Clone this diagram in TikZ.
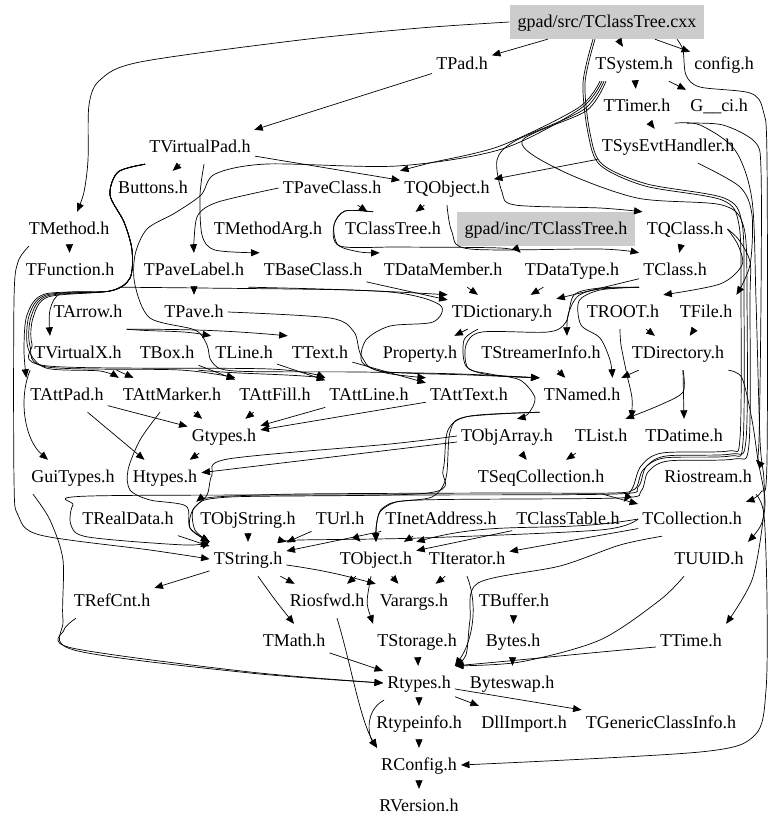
\documentclass[tikz,border=0pt]{standalone}
\usepackage{fontspec}
\setmainfont{Liberation Serif}
\usetikzlibrary{arrows.meta}
\definecolor{boxgray}{RGB}{204,204,204}
\begin{document}
\begin{tikzpicture}[x=1pt,y=-1pt,
  n/.style={inner xsep=4pt, inner ysep=0pt, minimum height=34pt, text height=13.5pt, text depth=3.5pt, font=\fontsize{18}{20}\selectfont},
  g/.style={n, fill=boxgray, inner xsep=8pt},
  e/.style={draw=black, line width=0.7pt, -{Triangle[length=8.5pt,width=7pt]}},
  sm/.style={smooth, tension=0.5}]
\useasboundingbox (0,0) rectangle (779,828);
% ---------- nodes ----------
\node[g] (cxx) at (607,22) {gpad/src/TClassTree.cxx};
\node[n] (TPad) at (462,64) {TPad.h};
\node[n] (TSystem) at (634,64) {TSystem.h};
\node[n] (config) at (724,64) {config.h};
\node[n] (TTimer) at (637,106) {TTimer.h};
\node[n] (Gci) at (719,106) {G\_\_ci.h};
\node[n] (TSysEvt) at (668,146) {TSysEvtHandler.h};
\node[n] (TVirtualPad) at (200,147) {TVirtualPad.h};
\node[n] (Buttons) at (153,188) {Buttons.h};
\node[n] (TPaveClass) at (332,188) {TPaveClass.h};
\node[n] (TQObject) at (447,188) {TQObject.h};
\node[n] (TMethod) at (69,229) {TMethod.h};
\node[n] (TMethodArg) at (268,229) {TMethodArg.h};
\node[n] (TClassTreeH) at (393,229) {TClassTree.h};
\node[g] (inc) at (546,229) {gpad/inc/TClassTree.h};
\node[n] (TQClass) at (685,229) {TQClass.h};
\node[n] (TFunction) at (70,270) {TFunction.h};
\node[n] (TPaveLabel) at (194,270) {TPaveLabel.h};
\node[n] (TBaseClass) at (313,270) {TBaseClass.h};
\node[n] (TDataMember) at (443,270) {TDataMember.h};
\node[n] (TDataType) at (572,270) {TDataType.h};
\node[n] (TClass) at (675,270) {TClass.h};
\node[n] (TArrow) at (88,312) {TArrow.h};
\node[n] (TPave) at (194,312) {TPave.h};
\node[n] (TDictionary) at (502,312) {TDictionary.h};
\node[n] (TROOT) at (623,312) {TROOT.h};
\node[n] (TFile) at (706,312) {TFile.h};
\node[n] (TVirtualX) at (78,353) {TVirtualX.h};
\node[n] (TBox) at (167,353) {TBox.h};
\node[n] (TLine) at (244,353) {TLine.h};
\node[n] (TText) at (320,353) {TText.h};
\node[n] (Property) at (420,353) {Property.h};
\node[n] (TStreamerInfo) at (541,353) {TStreamerInfo.h};
\node[n] (TDirectory) at (678,353) {TDirectory.h};
\node[n] (TAttPad) at (67,395) {TAttPad.h};
\node[n] (TAttMarker) at (172,395) {TAttMarker.h};
\node[n] (TAttFill) at (275,395) {TAttFill.h};
\node[n] (TAttLine) at (369,395) {TAttLine.h};
\node[n] (TAttText) at (469,395) {TAttText.h};
\node[n] (TNamed) at (582,395) {TNamed.h};
\node[n] (Gtypes) at (224,436) {Gtypes.h};
\node[n] (TObjArray) at (507,436) {TObjArray.h};
\node[n] (TList) at (601,436) {TList.h};
\node[n] (TDatime) at (684,436) {TDatime.h};
\node[n] (GuiTypes) at (73,477) {GuiTypes.h};
\node[n] (Htypes) at (165,477) {Htypes.h};
\node[n] (TSeqCollection) at (541,477) {TSeqCollection.h};
\node[n] (Riostream) at (708,477) {Riostream.h};
\node[n] (TRealData) at (128,519) {TRealData.h};
\node[n] (TObjString) at (248,519) {TObjString.h};
\node[n] (TUrl) at (340,519) {TUrl.h};
\node[n] (TInetAddress) at (441,519) {TInetAddress.h};
\node[n] (TClassTable) at (568,519) {TClassTable.h};
\node[n] (TCollection) at (692,519) {TCollection.h};
\node[n] (TString) at (248,559) {TString.h};
\node[n] (TObject) at (376,559) {TObject.h};
\node[n] (TIterator) at (467,559) {TIterator.h};
\node[n] (TUUID) at (709,559) {TUUID.h};
\node[n] (TRefCnt) at (112,601) {TRefCnt.h};
\node[n] (Riosfwd) at (327,601) {Riosfwd.h};
\node[n] (Varargs) at (414,601) {Varargs.h};
\node[n] (TBuffer) at (514,601) {TBuffer.h};
\node[n] (TMath) at (294,641) {TMath.h};
\node[n] (TStorage) at (417,641) {TStorage.h};
\node[n] (Bytes) at (513,641) {Bytes.h};
\node[n] (TTime) at (691,641) {TTime.h};
\node[n] (Rtypes) at (419,683) {Rtypes.h};
\node[n] (Byteswap) at (512,683) {Byteswap.h};
\node[n] (Rtypeinfo) at (419,723) {Rtypeinfo.h};
\node[n] (DllImport) at (524,723) {DllImport.h};
\node[n] (TGenericClassInfo) at (661,723) {TGenericClassInfo.h};
\node[n] (RConfig) at (419,765) {RConfig.h};
\node[n] (RVersion) at (419,806) {RVersion.h};
% ---------- top ----------
\draw[e] (cxx) -- (TPad);
\draw[e] (cxx) -- (TSystem);
\draw[e] (cxx) -- (config);
\draw[e] plot[sm] coordinates {(cxx.west) (420,28) (300,40) (140,62) (100,80) (89,105) (88,160) (84,192) ([xshift=8]TMethod.north)};
\draw[e] (TPad) -- (TVirtualPad);
\draw[e] (TSystem) -- (TTimer);
\draw[e] (TSystem) -- (Gci);
\draw[e] (TTimer) -- (TSysEvt);
\draw[e] (TSysEvt) -- (TQObject);
\draw[e] (TVirtualPad) -- (TQObject);
\draw[e] (TVirtualPad) -- (Buttons);
% TSystem fan
\draw[e] plot[sm] coordinates {([xshift=-34]TSystem.south) (578,108) (500,146) (430,163) (TQObject.north west)};
\draw[e] plot[sm] coordinates {([xshift=-32]TSystem.south) (580,109) (502,149) (397,166) (267,164) (215,174) (201,195) (175,213) (147,229) (135,255) (135,285) (150,318) (195,330) (207,345) (212,362) (235,371) (360,372) (460,374) (TNamed.north west)};
\draw[e] plot[sm] coordinates {([xshift=-30]TSystem.south) (583,110) (515,141) (497,160) (502,192) (515,205) (600,208) (TQClass.north west)};
\draw[e] plot[sm] coordinates {([xshift=-28]TSystem.south) (586,111) (522,141) (560,170) (637,198) (722,205) (744,228) (747,300) (746,440) (731,454) (666,456) (646,467) (638,487) (615,494) (400,495) (90,496) (73,505) (71,525) (88,537) (185,545) (TString.north west)};
% cxx right bundle
\draw[e] plot[sm] coordinates {([xshift=-14]cxx.south) (583,83) (588,133) (600,165) (645,186) (722,200) (739,225) (741,300) (740,438) (728,451) (662,453) (641,466) (633,487) (TClassTable.north east)};
\draw[e] plot[sm] coordinates {([xshift=-12]cxx.south) (585,83) (590,133) (602,164) (647,184) (724,198) (742,223) (744,300) (743,442) (730,456) (664,458) (643,470) (635,489) (612,493) (500,493) (300,494) (215,497) (TObjString.north west)};
\draw[e] plot[sm] coordinates {([xshift=70]cxx.south) (683,50) (686,75) (700,87) (750,93) (763,110) (767,160) (767,460) (761,492) (TCollection.north east)};
\draw[e] plot[sm] coordinates {([xshift=-32]Gci.south) (723,125) (755,142) (761,170) (761,300) (759,440) (Riostream.north east)};
\draw[e] plot[sm] coordinates {([xshift=30]TSysEvt.south) (740,187) (752,215) (750,265) (TFile.north east)};
\draw[e] plot[sm] coordinates {(TQClass.east) (738,245) (742,265) (720,284) (TROOT.north east)};
\draw[e] plot[sm] coordinates {(TQClass.east) (739,240) (750,262) (750,300) (749,444) (734,459) (668,461) (648,472) (641,491) (618,498) (420,500) (384,507) (377,522) (TObject.north)};
\draw[e] plot[sm] coordinates {(TTimer.south east) (700,125) (735,150) (752,200) (756,300) (760,440) (764,480) (763,520) (752,580) (TTime.north east)};
\draw[e] plot[sm] coordinates {(TDirectory.south east) (742,378) (752,420) (758,460) (765,500) (761,525) (TUUID.north east)};
\draw[e] plot[sm] coordinates {(Riostream.south east) (764,515) (767,600) (766,690) (755,735) (700,752) (RConfig.east)};
% TVirtualPad fan
\draw[e] plot[sm] coordinates {(TVirtualPad.south west) (118,172) (110,195) (124,222) (132,250) (130,278) (110,291) (62,293) (50,310) ([xshift=-28]TVirtualX.north)};
\draw[e] plot[sm] coordinates {(TVirtualPad.south west) (118,172) (110,195) (124,222) (132,250) (130,278) (110,291) (45,294) (27,315) (24,350) (TAttPad.north west)};
\draw[e] plot[sm] coordinates {(TVirtualPad.south west) (118,172) (110,195) (124,222) (132,250) (130,278) (110,291) (46,295) (29,316) (28,348) (46,368) (100,371) (TAttMarker.north west)};
\draw[e] plot[sm] coordinates {(TVirtualPad.south west) (118,172) (110,195) (124,222) (132,250) (130,278) (110,291) (47,296) (31,317) (30,346) (47,367) (180,370) (TAttFill.north west)};
\draw[e] plot[sm] coordinates {(TVirtualPad.south west) (118,172) (110,195) (124,222) (132,250) (130,278) (110,291) (48,297) (33,318) (32,344) (48,366) (270,369) (TAttLine.north west)};
\draw[e] plot[sm] coordinates {([xshift=4]TVirtualPad.south) (200,195) (202,235) (215,250) (TBaseClass.north west)};
% middle-upper
\draw[e] plot[sm] coordinates {(TPaveClass.west) (218,202) (198,215) (194,240) (TPaveLabel.north)};
\draw[e] (TPaveClass) -- (TClassTreeH);
\draw[e] (TQObject) -- (TClassTreeH);
\draw[e] plot[sm] coordinates {([xshift=-20]TClassTreeH.north) (345,211) (334,225) (338,245) (360,252) (TDataMember.north west)};
\draw[e] plot[sm] coordinates {([xshift=-20]TClassTreeH.north) (345,211) (334,225) (340,246) (400,247) (500,248) (TDataType.north west)};
\draw[e] plot[sm] coordinates {(TQObject.south) (452,232) (470,249) (600,249) (TClass.north west)};
\draw[e] (TMethod) -- (TFunction);
\draw[e] plot[sm] coordinates {([xshift=-40]TMethod.south) (18,262) (14,300) (14,480) (18,515) (40,535) (150,550) (TString.west)};
\draw[e] plot[sm] coordinates {(TFunction.south east) (200,288) (350,290) (TDictionary.north west)};
\draw[e] (TPaveLabel) -- (TPave);
\draw[e] (TBaseClass) -- (TDictionary);
\draw[e] (TDataMember) -- (TDictionary);
\draw[e] (TDataType) -- (TDictionary);
\draw[e] (TClass) -- (TDictionary);
\draw[e] (TQClass) -- (TClass);
\draw[e] plot[sm] coordinates {(TClass.south west) (600,289) (578,296) (568,315) ([xshift=26]TStreamerInfo.north)};
\draw[e] plot[sm] coordinates {(TClass.south west) (600,290) (579,301) (581,325) (600,338) (610,360) ([xshift=-12]TNamed.north east)};
\draw[e] plot[sm] coordinates {(TClass.south west) (600,288) (574,295) (566,322) (548,332) (482,332) (466,345) (468,368) (490,374) (520,380) (535,398) (528,414) ([xshift=10]TObjArray.north)};
\draw[e] (TDictionary) -- (Property);
\draw[e] plot[sm] coordinates {([xshift=-24]TDictionary.south) (464,340) (466,366) (490,375) (TNamed.north west)};
\draw[e] (TROOT) -- (TDirectory);
\draw[e] (TFile) -- (TDirectory);
\draw[e] plot[sm] coordinates {([xshift=-3]TROOT.south) (621,345) (627,375) (632,398) (TList.north east)};
\draw[e] (TStreamerInfo) -- (TNamed);
\draw[e] (TDirectory) -- (TNamed);
\draw[e] plot[sm] coordinates {([xshift=5]TDirectory.south) (683,392) (660,405) ([xshift=-6]TList.north east)};
\draw[e] ([xshift=5]TDirectory.south) -- (TDatime.north);
\draw[e] plot[sm] coordinates {(TPave.east) (330,318) (354,332) (361,355) (380,371) (470,375) (TNamed.north west)};
\draw[e] plot[sm] coordinates {(TPaveLabel.south east) (390,292) (440,305) (433,322) (390,326) (366,340) (362,362) (386,373) (TAttText.north west)};
\draw[e] (TArrow.south east) to[out=-5,in=170] (TLine.north west);
\draw[e] (TArrow.south east) to[out=0,in=175] (TText.north west);
% attributes
\draw[e] (TVirtualX) -- (TAttMarker);
\draw[e] (TVirtualX.south west) .. controls (18,400) and (25,440) .. ([xshift=-25]GuiTypes.north);
\draw[e] (TBox) -- (TAttFill);
\draw[e] (TBox.south east) to[out=-5,in=175] (TAttLine.north west);
\draw[e] (TLine) -- (TAttLine);
\draw[e] (TText) -- (TAttText);
\draw[e] (TAttPad) -- (Gtypes);
\draw[e] (TAttPad) -- (Htypes);
\draw[e] (TAttMarker) -- (Gtypes);
\draw[e] (TAttFill) -- (Gtypes);
\draw[e] (TAttLine) -- (Gtypes);
\draw[e] (TAttText) -- (Gtypes);
\draw[e] plot[sm] coordinates {([xshift=-12]TAttMarker.south) (140,440) (128,470) (130,490) (150,500) (186,506) (190,528) (TString.north west)};
\draw[e] (Gtypes) -- (Htypes);
\draw[e] (TObjArray) -- (Htypes);
\draw[e] plot[sm] coordinates {(TObjArray.west) (390,444) (228,459) (212,475) (207,495) (193,510) (195,530) (TString.north west)};
\draw[e] (TObjArray) -- (TSeqCollection);
\draw[e] (TList) -- (TSeqCollection);
\draw[e] plot[sm] coordinates {(TNamed.south west) (470,416) (448,430) (443,470) (428,493) (230,497) (196,506) (190,528) (TString.north west)};
\draw[e] plot[sm] coordinates {(TNamed.south west) (465,417) (450,432) (446,478) (432,497) (396,502) (380,512) (376,528) (TObject.north)};
\draw[e] (TSeqCollection) -- (TCollection);
% lower
\draw[e] (TRealData) -- (TString);
\draw[e] (TObjString) -- (TString);
\draw[e] (TUrl) -- (TString);
\draw[e] (TInetAddress) -- (TString);
\draw[e] (TUrl) -- (TObject);
\draw[e] (TInetAddress) -- (TObject);
\draw[e] (TClassTable) -- (TObject);
\draw[e] (TCollection.west) to[out=190,in=15] (TObject.north east);
\draw[e] (TCollection) -- (TIterator);
\draw[e] plot[sm] coordinates {(TCollection.west) (600,530) (420,538) (300,540) (TString.north east)};
\draw[e] plot[sm] coordinates {([xshift=-30]TCollection.south) (620,545) (560,566) (478,583) (470,620) (466,655) (Rtypes.north east)};
\draw[e] (TString) -- (TRefCnt);
\draw[e] (TString) -- (Riosfwd);
\draw[e] ([xshift=10]TString.south) .. controls (275,600) .. (TMath.north);
\draw[e] ([yshift=-6]TString.east) to[out=-8,in=165] (Varargs.north west);
\draw[e] (TObject) -- (Riosfwd);
\draw[e] (TObject) -- (Varargs);
\draw[e] ([xshift=-5]TObject.south) .. controls (366,603) .. (TStorage.north west);
\draw[e] (TIterator) -- (Varargs);
\draw[e] (TIterator.south) .. controls (480,610) and (470,645) .. (Rtypes.north east);
\draw[e] (TBuffer) -- (Bytes);
\draw[e] (Bytes) -- (Byteswap);
\draw[e] (TStorage) -- (Rtypes);
\draw[e] (TMath) -- (Rtypes);
\draw[e] plot[sm] coordinates {([xshift=-25]TUUID.south) (660,600) (600,640) (520,662) (Rtypes.north east)};
\draw[e] ([yshift=-6]TTime.west) to[out=185,in=5] (Rtypes.north east);
\draw[e] plot[sm] coordinates {([xshift=-36]TRefCnt.south) (64,630) (72,648) (250,672) (Rtypes.west)};
\draw[e] plot[sm] coordinates {([xshift=-40]GuiTypes.south) (50,520) (63,560) (63,620) (74,650) (250,673) (Rtypes.west)};
\draw[e] (Rtypes) -- (Rtypeinfo);
\draw[e] (Rtypes) -- (DllImport);
\draw[e] (Rtypes) -- (TGenericClassInfo);
\draw[e] ([xshift=-35]Rtypes.south) .. controls (365,710) and (368,735) .. (RConfig.north west);
\draw[e] ([xshift=10]Riosfwd.south) .. controls (350,660) and (360,720) .. (RConfig.north west);
\draw[e] (Rtypeinfo) -- (RConfig);
\draw[e] (RConfig) -- (RVersion);
\end{tikzpicture}
\end{document}
